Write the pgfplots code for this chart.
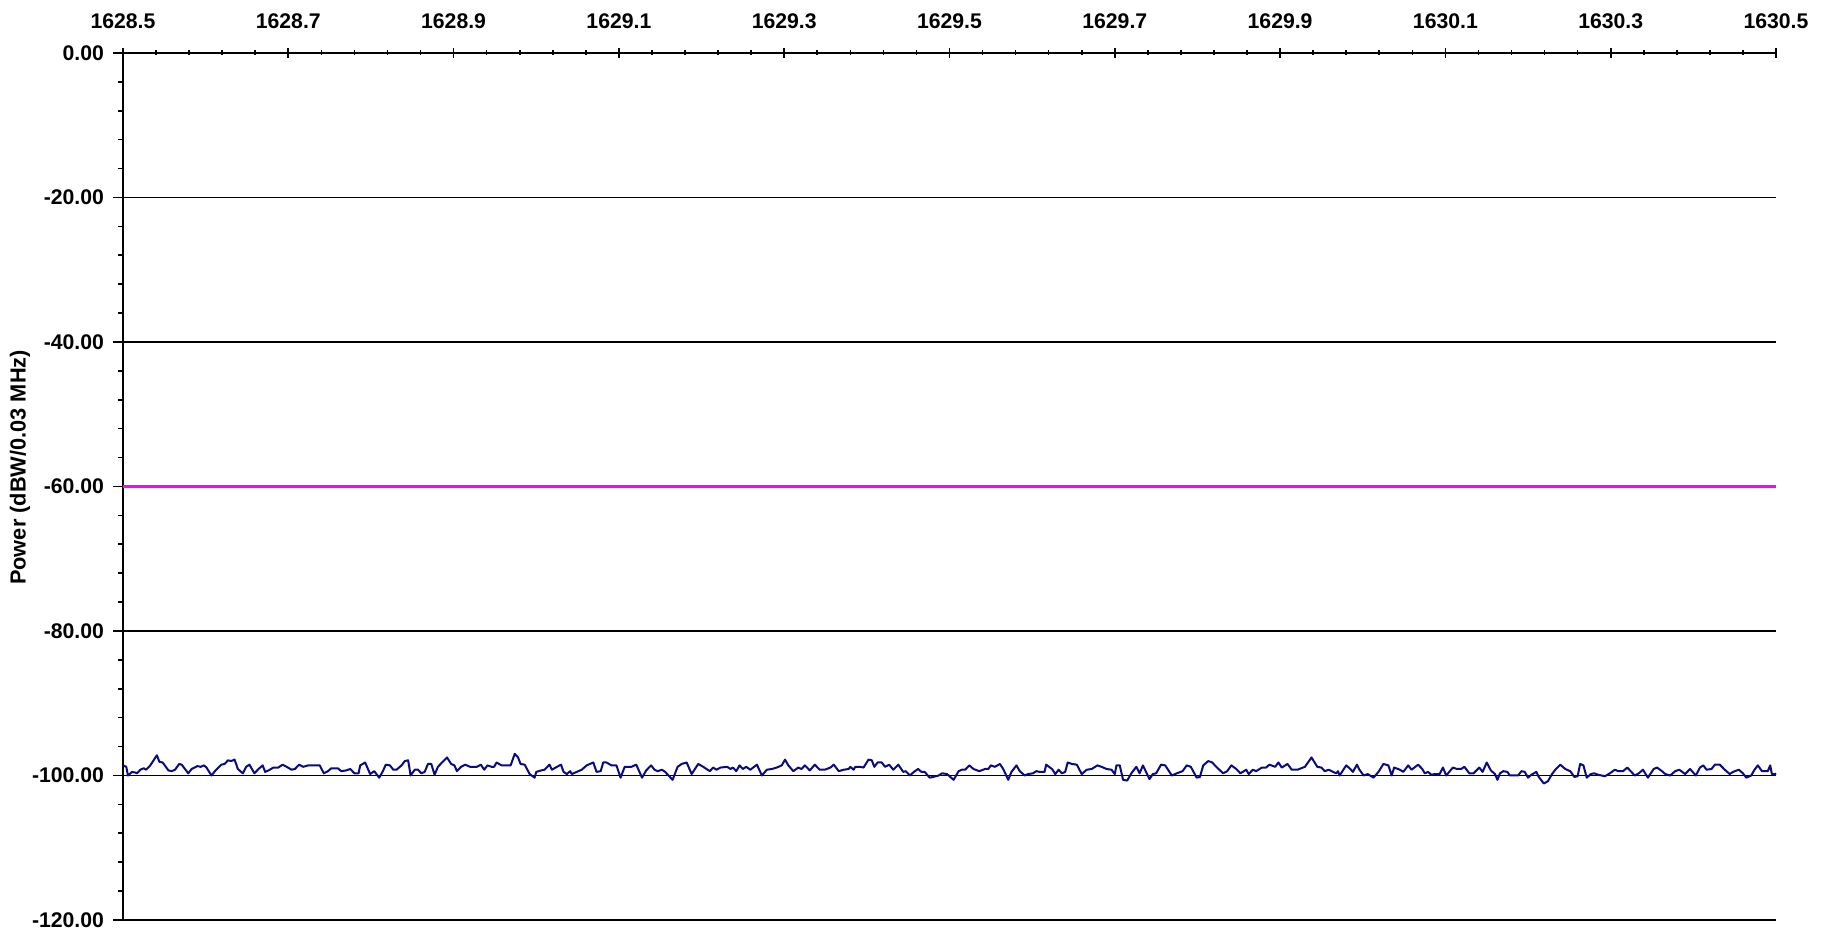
\documentclass[border=0pt]{standalone}
\usepackage{pgfplots}
\pgfplotsset{compat=1.18}
\usepackage{pgfplotstable}
\usepackage{fontspec}
\setmainfont{Liberation Sans}
\definecolor{navyline}{RGB}{10,10,130}
\definecolor{magline}{RGB}{255,0,255}
\pgfplotstableread{
x y
1628.500 -98.6
1628.504 -98.8
1628.506 -100.0
1628.511 -99.5
1628.515 -99.6
1628.517 -99.7
1628.521 -99.2
1628.525 -99.0
1628.528 -99.2
1628.533 -98.6
1628.541 -97.2
1628.544 -98.1
1628.548 -98.2
1628.555 -99.3
1628.559 -99.4
1628.563 -99.2
1628.568 -98.4
1628.571 -98.5
1628.579 -99.7
1628.583 -99.1
1628.590 -98.7
1628.594 -98.8
1628.598 -98.6
1628.601 -98.9
1628.607 -100.0
1628.612 -99.3
1628.619 -98.5
1628.623 -98.4
1628.627 -97.9
1628.631 -98.0
1628.635 -97.8
1628.639 -99.1
1628.645 -99.7
1628.649 -98.8
1628.653 -98.5
1628.659 -99.7
1628.664 -99.1
1628.669 -98.6
1628.672 -99.5
1628.676 -99.3
1628.682 -98.9
1628.688 -98.9
1628.693 -98.5
1628.698 -98.8
1628.704 -99.2
1628.708 -99.1
1628.713 -98.5
1628.718 -98.8
1628.724 -98.6
1628.738 -98.6
1628.743 -99.7
1628.748 -99.4
1628.752 -99.0
1628.760 -99.0
1628.764 -99.4
1628.770 -99.3
1628.775 -99.1
1628.780 -99.7
1628.785 -99.7
1628.787 -98.6
1628.793 -98.2
1628.799 -99.8
1628.804 -99.4
1628.810 -100.3
1628.814 -99.5
1628.818 -98.5
1628.823 -98.6
1628.827 -99.2
1628.831 -99.2
1628.837 -98.6
1628.841 -98.0
1628.845 -97.9
1628.848 -100.0
1628.853 -99.2
1628.857 -99.2
1628.861 -99.7
1628.865 -99.5
1628.869 -98.4
1628.873 -98.4
1628.877 -99.9
1628.881 -98.8
1628.886 -98.2
1628.892 -97.5
1628.897 -98.4
1628.901 -98.6
1628.904 -99.4
1628.909 -98.8
1628.914 -98.5
1628.920 -98.8
1628.924 -98.8
1628.928 -98.8
1628.933 -98.5
1628.937 -99.2
1628.941 -98.6
1628.946 -98.8
1628.949 -98.8
1628.952 -98.2
1628.958 -98.6
1628.969 -98.6
1628.974 -97.0
1628.978 -97.5
1628.981 -98.4
1628.986 -98.5
1628.992 -99.8
1628.998 -100.3
1629.000 -99.5
1629.006 -99.3
1629.010 -99.2
1629.016 -98.5
1629.019 -99.2
1629.025 -98.8
1629.030 -98.5
1629.033 -99.5
1629.037 -99.8
1629.041 -99.4
1629.043 -99.8
1629.049 -99.5
1629.055 -99.2
1629.061 -98.6
1629.069 -98.2
1629.073 -99.5
1629.078 -99.4
1629.081 -98.2
1629.085 -98.2
1629.091 -98.6
1629.097 -98.6
1629.102 -100.3
1629.107 -98.8
1629.115 -98.8
1629.121 -98.5
1629.128 -100.3
1629.133 -99.3
1629.139 -98.6
1629.143 -99.2
1629.147 -99.4
1629.152 -99.2
1629.156 -99.5
1629.160 -100.0
1629.165 -100.6
1629.171 -98.8
1629.176 -98.4
1629.182 -98.2
1629.188 -99.8
1629.196 -98.4
1629.202 -98.8
1629.210 -99.4
1629.214 -98.9
1629.218 -99.2
1629.223 -98.9
1629.231 -98.8
1629.235 -99.1
1629.238 -98.9
1629.242 -99.4
1629.246 -98.6
1629.250 -99.1
1629.254 -98.8
1629.259 -99.2
1629.267 -98.5
1629.273 -100.0
1629.279 -99.2
1629.285 -99.1
1629.291 -98.9
1629.297 -98.6
1629.301 -97.8
1629.305 -98.6
1629.311 -99.4
1629.317 -98.9
1629.321 -99.1
1629.325 -98.6
1629.331 -99.3
1629.337 -98.5
1629.343 -99.2
1629.349 -99.2
1629.356 -98.9
1629.360 -98.5
1629.366 -99.4
1629.372 -99.2
1629.378 -99.1
1629.380 -98.8
1629.384 -99.2
1629.386 -98.8
1629.392 -98.8
1629.396 -98.9
1629.402 -97.8
1629.406 -97.9
1629.409 -98.8
1629.413 -98.2
1629.418 -98.2
1629.422 -98.8
1629.427 -98.5
1629.432 -99.2
1629.438 -98.5
1629.444 -99.5
1629.447 -99.4
1629.452 -100.0
1629.457 -99.5
1629.462 -99.1
1629.466 -99.5
1629.470 -99.5
1629.476 -100.3
1629.480 -100.2
1629.487 -100.0
1629.491 -99.7
1629.497 -99.8
1629.505 -100.6
1629.511 -99.4
1629.515 -99.2
1629.519 -99.2
1629.524 -98.6
1629.529 -99.1
1629.536 -99.4
1629.543 -99.1
1629.547 -99.1
1629.550 -98.6
1629.555 -98.8
1629.561 -98.4
1629.565 -99.1
1629.571 -100.6
1629.575 -99.5
1629.581 -98.6
1629.585 -99.4
1629.591 -100.0
1629.595 -99.8
1629.601 -99.7
1629.605 -99.4
1629.609 -99.5
1629.615 -99.5
1629.617 -98.5
1629.624 -99.1
1629.628 -99.8
1629.632 -99.2
1629.636 -99.7
1629.640 -99.5
1629.643 -98.2
1629.648 -98.4
1629.654 -98.5
1629.660 -99.8
1629.666 -99.2
1629.672 -99.1
1629.679 -98.6
1629.684 -98.8
1629.690 -99.1
1629.696 -99.2
1629.700 -99.8
1629.702 -98.6
1629.706 -98.6
1629.710 -100.6
1629.715 -100.7
1629.720 -99.7
1629.726 -98.8
1629.730 -99.7
1629.734 -98.6
1629.742 -100.5
1629.746 -99.8
1629.750 -99.7
1629.756 -98.5
1629.761 -98.6
1629.769 -100.0
1629.775 -99.7
1629.782 -99.4
1629.787 -98.6
1629.792 -98.8
1629.799 -100.3
1629.803 -100.2
1629.807 -98.6
1629.813 -98.0
1629.818 -98.2
1629.821 -98.6
1629.831 -99.7
1629.836 -99.4
1629.841 -98.6
1629.847 -99.1
1629.852 -99.7
1629.859 -99.2
1629.862 -99.8
1629.867 -99.2
1629.871 -99.4
1629.878 -98.9
1629.883 -98.9
1629.887 -98.5
1629.894 -98.8
1629.898 -98.2
1629.902 -98.9
1629.909 -98.4
1629.914 -99.2
1629.921 -99.2
1629.930 -98.8
1629.938 -97.5
1629.945 -98.8
1629.950 -98.9
1629.954 -99.4
1629.959 -99.2
1629.964 -99.5
1629.968 -99.7
1629.970 -99.4
1629.972 -100.0
1629.980 -98.6
1629.985 -99.1
1629.988 -99.5
1629.993 -98.5
1629.996 -99.2
1630.001 -100.0
1630.006 -99.8
1630.013 -100.3
1630.019 -99.5
1630.025 -98.4
1630.031 -98.6
1630.035 -100.0
1630.038 -98.9
1630.045 -99.2
1630.049 -99.5
1630.055 -98.6
1630.059 -99.2
1630.067 -98.5
1630.072 -99.1
1630.075 -99.7
1630.079 -99.5
1630.083 -99.9
1630.087 -99.8
1630.093 -99.8
1630.097 -98.9
1630.101 -100.0
1630.109 -98.9
1630.114 -99.1
1630.119 -99.1
1630.123 -98.8
1630.129 -99.7
1630.134 -99.7
1630.141 -98.9
1630.145 -99.5
1630.150 -98.2
1630.155 -99.3
1630.160 -99.8
1630.163 -100.6
1630.166 -99.7
1630.170 -99.4
1630.175 -99.5
1630.178 -100.0
1630.188 -100.0
1630.192 -99.4
1630.196 -99.5
1630.200 -100.3
1630.204 -99.9
1630.210 -99.5
1630.213 -100.2
1630.219 -101.1
1630.224 -100.8
1630.229 -99.8
1630.233 -99.2
1630.239 -98.5
1630.245 -99.1
1630.251 -99.4
1630.256 -100.2
1630.260 -100.1
1630.263 -98.4
1630.267 -98.6
1630.271 -100.3
1630.276 -99.8
1630.280 -99.7
1630.285 -99.9
1630.293 -100.1
1630.299 -99.7
1630.305 -99.2
1630.309 -99.4
1630.315 -99.4
1630.320 -98.9
1630.325 -99.5
1630.329 -100.0
1630.334 -99.7
1630.339 -99.2
1630.345 -100.3
1630.352 -99.1
1630.356 -98.9
1630.362 -99.4
1630.366 -99.8
1630.372 -100.0
1630.378 -99.4
1630.383 -99.2
1630.390 -99.8
1630.396 -99.1
1630.403 -100.0
1630.408 -98.9
1630.412 -98.6
1630.416 -99.2
1630.422 -99.1
1630.426 -98.5
1630.432 -98.5
1630.438 -99.2
1630.444 -99.8
1630.448 -99.5
1630.455 -99.2
1630.460 -99.7
1630.464 -100.3
1630.470 -100.0
1630.474 -99.2
1630.478 -98.6
1630.483 -99.4
1630.490 -99.4
1630.493 -98.6
1630.495 -99.8
1630.499 -99.8
1630.500 -99.7
}\noisetable
\begin{document}
\begin{tikzpicture}
\begin{axis}[
  scale only axis,
  width=826.5pt, height=433.5pt,
  xmin=1628.5, xmax=1630.5,
  ymin=-120, ymax=0,
  axis x line*=top,
  axis y line*=left,
  axis line style={line width=1pt, -},
  xtick={1628.5,1628.7,1628.9,1629.1,1629.3,1629.5,1629.7,1629.9,1630.1,1630.3,1630.5},
  xticklabels={1628.5,1628.7,1628.9,1629.1,1629.3,1629.5,1629.7,1629.9,1630.1,1630.3,1630.5},
  ytick={-120,-100,-80,-60,-40,-20,0},
  yticklabels={-120.00,-100.00,-80.00,-60.00,-40.00,-20.00,0.00},
  minor x tick num=4,
  minor y tick num=4,
  xtick align=center,
  ytick align=outside,
  major tick length=5pt,
  minor tick length=2.5pt,
  tick style={black, line width=0.8pt},
  ymajorgrids,
  major grid style={black, line width=0.75pt},
  tick label style={font=\fontsize{10.6}{12}\selectfont\bfseries},
  xticklabel style={yshift=6pt},
  yticklabel style={xshift=-1pt},
  ylabel={Power (dBW/0.03 MHz)},
  every axis y label/.style={at={(axis description cs:-0.0623,0.522)}, rotate=90, anchor=center, font=\fontsize{10.9}{12}\selectfont\bfseries},
  clip=false,
]
\addplot[magline, line width=1.75pt] coordinates {(1628.5,-60) (1630.5,-60)};
\addplot[navyline, line width=1pt, line join=round] table[x=x,y=y] {\noisetable};
\coordinate (ll) at (rel axis cs:0,0);
\coordinate (ur) at (rel axis cs:1,1);
\end{axis}
\pgfresetboundingbox
\path ([shift={(-61.5pt,-5.5pt)}]ll) rectangle ([shift={(28pt,26.5pt)}]ur);
\end{tikzpicture}
\end{document}
